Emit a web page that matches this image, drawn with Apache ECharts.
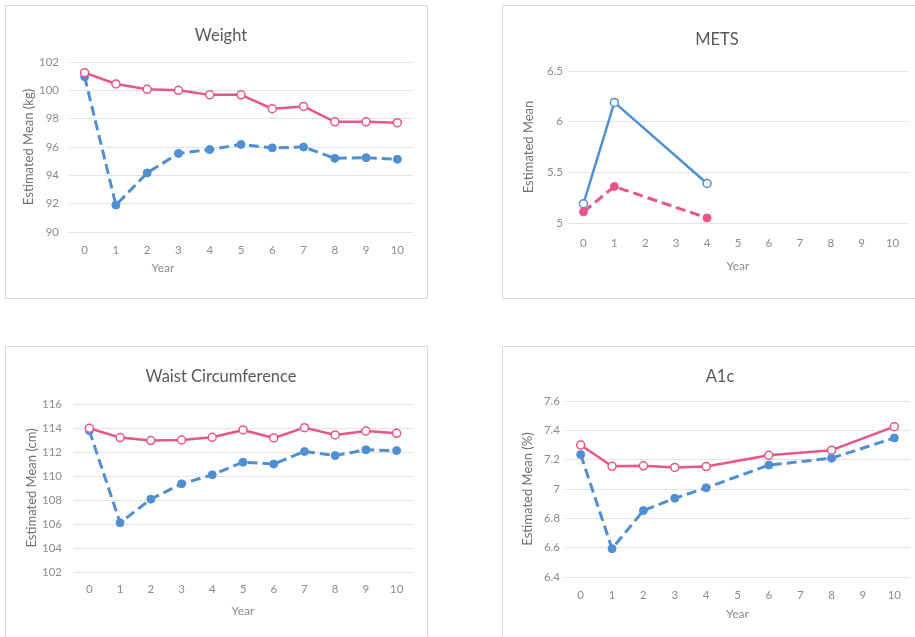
<!DOCTYPE html>
<html>
<head>
<meta charset="utf-8">
<script src="https://cdn.jsdelivr.net/npm/echarts@6/dist/echarts.min.js"></script>
<style>
html,body{margin:0;padding:0;background:#fff;}
#c{width:915px;height:637px;}
</style>
</head>
<body>
<div id="c"></div>
<script>
const years = ['0','1','2','3','4','5','6','7','8','9','10'];

const weightPink = [101.25, 100.45, 100.07, 100.0, 99.68, 99.68, 98.7, 98.86, 97.78, 97.78, 97.72];
const weightBlue = [100.96, 91.9, 94.17, 95.55, 95.82, 96.18, 95.94, 96.0, 95.2, 95.25, 95.13];

const metsBlue = [5.19, 6.19, null, null, 5.39, null, null, null, null, null, null];
const metsPink = [5.11, 5.36, null, null, 5.05, null, null, null, null, null, null];

const waistPink = [113.98, 113.2, 112.95, 113.0, 113.23, 113.84, 113.17, 114.03, 113.42, 113.75, 113.56];
const waistBlue = [113.78, 106.1, 108.07, 109.35, 110.1, 111.15, 111.0, 112.04, 111.7, 112.18, 112.12];

const a1cPink = [7.30, 7.155, 7.158, 7.147, 7.153, null, 7.23, null, 7.265, null, 7.425];
const a1cBlue = [7.235, 6.593, 6.853, 6.937, 7.008, null, 7.163, null, 7.21, null, 7.348];

const panels = [
  {title:'Weight', yName:'Estimated Mean (kg)', min:90, max:102, interval:2},
  {title:'METS', yName:'Estimated Mean', min:5, max:6.5, interval:0.5},
  {title:'Waist Circumference', yName:'Estimated Mean (cm)', min:102, max:116, interval:2},
  {title:'A1c', yName:'Estimated Mean (%)', min:6.4, max:7.6, interval:0.2}
];

const BLUE = '#4F8FD2';
const PINK = '#E9558A';
const FONT = 'Lato, "Open Sans", sans-serif';
const LBL = '#8C8C8C';

const grids = [
  {left:69, top:62, width:344, height:170},
  {left:568, top:71, width:340, height:152},
  {left:74, top:404, width:338, height:168},
  {left:565, top:401, width:345, height:176}
];

const yNameGap = [32, 33, 36, 31];
const xLabelMargin = [12, 14, 11, 12];
const xNameGap = [0, 37, 33, 31];
const yLabelMargin = [10, 5, 12, 5];

const titlePos = [
  {x:216, y:22}, {x:712, y:26}, {x:216, y:363}, {x:715, y:363}
];

function solid(color, data, gi, name) {
  return {
    type:'line', name:name, xAxisIndex:gi, yAxisIndex:gi, data:data,
    connectNulls:true, symbol:'circle', symbolSize:8,
    lineStyle:{color:color, width:2.5},
    itemStyle:{color:'#fff', borderColor:color, borderWidth:1.5},
    z:3
  };
}
function dashed(color, data, gi, name) {
  return {
    type:'line', name:name, xAxisIndex:gi, yAxisIndex:gi, data:data,
    connectNulls:true, symbol:'circle', symbolSize:8,
    lineStyle:{color:color, width:3, type:[10,5]},
    itemStyle:{color:color, borderColor:color},
    z:2
  };
}

const option = {
  animation:false,
  backgroundColor:'#fff',
  title: panels.map((p,i)=>({
    text:p.title, left:titlePos[i].x, top:titlePos[i].y, textAlign:'center',
    textStyle:{fontFamily:FONT, fontSize:16.5, fontWeight:'normal', color:'#595959'}
  })),
  graphic: [
    {type:'rect', shape:{x:5.5, y:5.5, width:422, height:293}, style:{fill:'none', stroke:'#D9D9D9', lineWidth:1}, z:-1},
    {type:'rect', shape:{x:502.5, y:5.5, width:420, height:293}, style:{fill:'none', stroke:'#D9D9D9', lineWidth:1}, z:-1},
    {type:'rect', shape:{x:5.5, y:346.5, width:422, height:300}, style:{fill:'none', stroke:'#D9D9D9', lineWidth:1}, z:-1},
    {type:'rect', shape:{x:502.5, y:346.5, width:420, height:300}, style:{fill:'none', stroke:'#D9D9D9', lineWidth:1}, z:-1},
    {type:'text', x:163, y:268, style:{text:'Year', fontFamily:FONT, fontSize:12, fill:LBL, textAlign:'center', textVerticalAlign:'middle'}}
  ],
  grid: grids,
  xAxis: panels.map((p,i)=>({
    type:'category', gridIndex:i, data:years, boundaryGap:true,
    name: i===0 ? '' : 'Year', nameLocation:'middle', nameGap:xNameGap[i],
    nameTextStyle:{fontFamily:FONT, fontSize:12, color:LBL},
    axisLine:{show:true, lineStyle:{color:'#E3E3E3', width:1}},
    axisTick:{show:false},
    axisLabel:{fontFamily:FONT, fontSize:11.5, color:LBL, margin:xLabelMargin[i], interval:0}
  })),
  yAxis: panels.map((p,i)=>({
    type:'value', gridIndex:i, min:p.min, max:p.max, interval:p.interval,
    name:p.yName, nameLocation:'middle', nameGap:yNameGap[i],
    nameTextStyle:{fontFamily:FONT, fontSize:13, color:'#707070'},
    axisLine:{show:false}, axisTick:{show:false},
    splitLine:{show:true, lineStyle:{color:'#E3E3E3', width:1}},
    axisLabel:{fontFamily:FONT, fontSize:11.5, color:LBL, margin:yLabelMargin[i]}
  })),
  series: [
    dashed(BLUE, weightBlue, 0, 'Weight B'),
    solid(PINK, weightPink, 0, 'Weight A'),
    dashed(PINK, metsPink, 1, 'METS B'),
    solid(BLUE, metsBlue, 1, 'METS A'),
    dashed(BLUE, waistBlue, 2, 'Waist B'),
    solid(PINK, waistPink, 2, 'Waist A'),
    dashed(BLUE, a1cBlue, 3, 'A1c B'),
    solid(PINK, a1cPink, 3, 'A1c A')
  ]
};

const chart = echarts.init(document.getElementById('c'), null, {renderer:'canvas'});
chart.setOption(option);
</script>
</body>
</html>
